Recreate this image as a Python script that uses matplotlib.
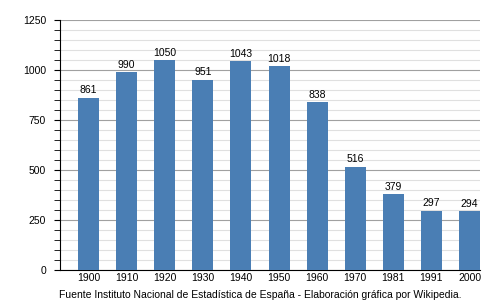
import numpy as np
import matplotlib.pyplot as plt
from matplotlib.ticker import MultipleLocator

plt.rcParams['font.family'] = ['Liberation Sans', 'DejaVu Sans']

# Datos
years = ["1900", "1910", "1920", "1930", "1940", "1950", "1960", "1970", "1981", "1991", "2000"]
population = [861, 990, 1050, 951, 1043, 1018, 838, 516, 379, 297, 294]
source = "Fuente Instituto Nacional de Estadística de España - Elaboración gráfica por Wikipedia."

fig = plt.figure(figsize=(5, 3), dpi=100)
ax = fig.add_axes([0.12, 0.1, 0.84, 0.833])

x = np.arange(len(years))
ax.bar(x, population, width=0.55, color="#4a7eb4", zorder=3)
for xi, v in zip(x, population):
    ax.text(xi, v + 12, str(v), ha="center", va="bottom", fontsize=7.5, zorder=4)

ax.set_xlim(-0.75, 10.275)
ax.set_ylim(0, 1250)
ax.set_xticks(x)
ax.set_xticklabels(years)
ax.yaxis.set_major_locator(MultipleLocator(250))
ax.yaxis.set_minor_locator(MultipleLocator(50))
ax.grid(axis="y", which="major", color="#a0a0a0", linewidth=0.8, zorder=1)
ax.grid(axis="y", which="minor", color="#e0e0e0", linewidth=0.8, zorder=1)
ax.tick_params(axis="y", which="major", direction="out", length=4, labelsize=7.5, pad=6)
ax.tick_params(axis="y", which="minor", direction="out", length=4)
ax.tick_params(axis="x", length=0, labelsize=7.5, pad=2)
for s in ["top", "right"]:
    ax.spines[s].set_visible(False)

fig.text(0.52, 0.007, source, ha="center", va="baseline", fontsize=7.5)

fig.savefig("out.png", dpi=100)
